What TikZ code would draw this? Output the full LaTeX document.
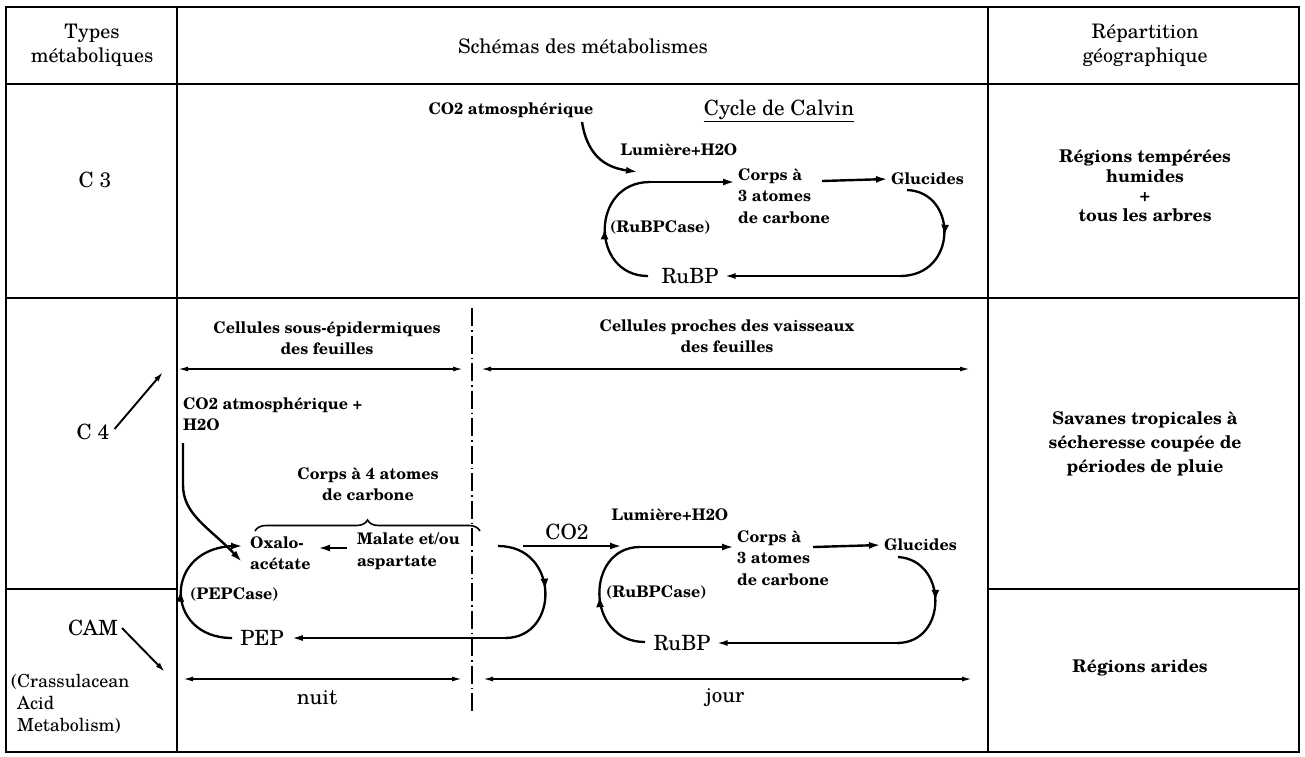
\documentclass[tikz,border=0pt]{standalone}
\usepackage{fontspec}
\setmainfont{texgyreschola}[Extension=.otf,UprightFont=*-regular,BoldFont=*-bold,ItalicFont=*-italic,BoldItalicFont=*-bolditalic]
\usetikzlibrary{arrows.meta,decorations.pathreplacing,decorations.markings}
\begin{document}
\begin{tikzpicture}[x=1pt,y=-1pt,
  grid/.style={line width=2.2pt},
  lbl/.style={font=\bfseries\fontsize{16}{21.5}\selectfont, inner sep=0pt, align=center},
  hdr/.style={font=\fontsize{20}{24}\selectfont, inner sep=0pt, align=center},
  rt/.style={font=\bfseries\fontsize{17.5}{19.5}\selectfont, inner sep=0pt, align=center},
  big/.style={font=\fontsize{21}{24}\selectfont, inner sep=0pt},
  conn/.style={line width=2.4pt, -{Latex[length=12pt,width=7pt]}},
  connb/.style={line width=2pt, -{Latex[length=11pt,width=6pt]}},
  thinarr/.style={line width=1.9pt, -{Latex[length=10pt,width=5.5pt]}},
  dbl/.style={line width=1.6pt, {Latex[length=10pt,width=5pt]}-{Latex[length=10pt,width=5pt]}},
  cyc/.style={line width=2.3pt, decoration={markings, mark=at position 0.5 with {\arrow{Latex[length=11pt,width=8pt]}}}, postaction={decorate}},
  dashdot/.style={line width=1.4pt, dash pattern=on 18pt off 4pt on 1.5pt off 4pt}
]
\fill[white] (0,0) rectangle (1305,756);
\useasboundingbox (0,0) rectangle (1305,756);

% table
\draw[grid] (6,7) rectangle (1299,752);
\draw[grid] (177,7) -- (177,752);
\draw[grid] (988,7) -- (988,752);
\draw[grid] (6,84) -- (1299,84);
\draw[grid] (6,298) -- (1299,298);
\draw[grid] (6,589) -- (177,589);
\draw[grid] (988,589) -- (1299,589);

% headers
\node[hdr] (h1) at (92,45) {Types\\métaboliques};
\node[hdr] (h2) at (583,46) {Schémas des métabolismes};
\node[hdr] (h3) at (1145,45) {Répartition\\géographique};

% left column
\node[big] (c3) at (95,180) {C 3};
\node[big] (c4) at (93,432) {C 4};
\node[big] (cam) at (93,628) {CAM};
\node[font=\fontsize{18}{22}\selectfont, inner sep=0pt, align=left, anchor=north west] (camtxt) at (11,674) {(Crassulacean\\\phantom{(}Acid\\\phantom{(}Metabolism)};
\coordinate (c4tip) at (163,372);
\coordinate (camtip) at (165,672);
\draw[thinarr] ([xshift=5pt,yshift=3pt]c4.east) -- (c4tip);
\draw[thinarr] ([xshift=4pt]cam.east) -- (camtip);

% right column
\node[rt] (r1) at (1145,186) {Régions tempérées\\humides\\+\\tous les arbres};
\node[rt, font=\bfseries\fontsize{17.5}{24}\selectfont] (r2) at (1145,444) {Savanes tropicales à\\sécheresse coupée de\\périodes de pluie};
\node[rt] (r3) at (1140,668) {Régions arides};

% ---- C3 ----
\node[lbl] (co2a) at (511,110) {CO2 atmosphérique};
\node[big] (calvin) at (779,111) {\underline{Cycle de Calvin}};
\node[lbl] (lum1) at (679,150) {Lumière+H2O};
\node[lbl, align=left, anchor=west] (corps1) at (738,196) {Corps à\\3 atomes\\de carbone};
\node[lbl, anchor=west] (gluc1) at (891,179) {Glucides};
\node[lbl, anchor=west] (rubpc1) at (610,228) {(RuBPCase)};
\node[big] (rubp1) at (690,276) {RuBP};
\coordinate (a1s) at (582,122);
\coordinate (a1e) at (638,172);
\coordinate (l1top) at (650,182);
\coordinate (l1bot) at (648,276);
\coordinate (g1s) at (907,190);
\coordinate (g1b) at (900,276);
\draw[conn] (a1s) .. controls (588,160) and (610,168) .. (a1e);
\draw[cyc] (l1bot) .. controls (590,276) and (590,182) .. (l1top);
\draw[conn] (l1top) -- ([xshift=-3pt]corps1.west |- l1top);
\draw[conn] (822,181) -- ([xshift=-3pt]gluc1.west);
\draw[cyc] (g1s) .. controls (958,192) and (958,276) .. (g1b);
\draw[connb] (g1b) -- ([xshift=6pt]rubp1.east);

% ---- C4 / CAM ----
\draw[dashdot] (472,308) -- (472,712);
\node[lbl] (cse) at (327,338) {Cellules sous-épidermiques\\des feuilles};
\node[lbl] (cpv) at (727,336) {Cellules proches des vaisseaux\\des feuilles};
\coordinate (e1l) at (178,369); \coordinate (e1r) at (463,369);
\coordinate (e2l) at (481,369); \coordinate (e2r) at (970,369);
\draw[dbl] (e1l) -- (e1r);
\draw[dbl] (e2l) -- (e2r);

\node[lbl, align=left, anchor=north west] (co2b) at (183,397) {CO2 atmosphérique +\\H2O};
\node[lbl] (c4at) at (368,484) {Corps à 4 atomes\\de carbone};
\draw[decorate, decoration={brace, amplitude=11pt}, line width=1.6pt] (255,531) -- (480,531);
\node[lbl, align=left, anchor=west] (oxa) at (250,553) {Oxalo-\\acétate};
\node[lbl, align=left, anchor=west] (mal) at (357,551) {Malate et/ou\\aspartate};
\node[lbl, anchor=west] (pepc) at (190,595) {(PEPCase)};
\node[big] (pep) at (262,638) {PEP};
\coordinate (b1) at (183,443);
\coordinate (b2) at (183,485);
\coordinate (ms) at (347,548);
\coordinate (me) at (318,548);
\draw[conn] (b1) -- (b2) .. controls (183,515) and (210,528) .. ([xshift=-8pt,yshift=-9pt]oxa.west);
\draw[conn] (ms) -- (me);
\coordinate (p1top) at (236,546);
\draw[cyc] ([xshift=-8pt]pep.west) .. controls (163,638) and (163,546) .. (p1top);
\draw[conn] ([xshift=-1pt]p1top) -- ([xshift=-7pt]oxa.west |- p1top);
\coordinate (m1s) at (498,546);
\coordinate (m1b) at (505,638);
\draw[cyc] (m1s) .. controls (560,546) and (560,638) .. (m1b);
\draw[connb] (m1b) -- ([xshift=8pt]pep.east);

\node[big] (co2c) at (567,532) {CO2};
\draw[conn] (523,546) -- (622,546);
\node[lbl] (lum2) at (670,515) {Lumière+H2O};
\node[lbl, align=left, anchor=west] (corps2) at (737,558) {Corps à\\3 atomes\\de carbone};
\node[lbl, anchor=west] (gluc2) at (884,545) {Glucides};
\node[lbl, anchor=west] (rubpc2) at (606,593) {(RuBPCase)};
\node[big] (rubp2) at (682,643) {RuBP};
\coordinate (l2top) at (640,547);
\coordinate (l2bot) at (645,642);
\draw[cyc] (l2bot) .. controls (585,642) and (585,547) .. (l2top);
\draw[conn] (l2top) -- ([xshift=-3pt]corps2.west |- l2top);
\draw[conn] (813,547) -- ([xshift=-3pt]gluc2.west);
\coordinate (g2s) at (898,557);
\coordinate (g2b) at (897,643);
\draw[cyc] (g2s) .. controls (948,560) and (948,643) .. (g2b);
\draw[connb] (g2b) -- ([xshift=6pt]rubp2.east);

\coordinate (n1l) at (183,679); \coordinate (n1r) at (462,679);
\coordinate (j1l) at (483,679); \coordinate (j1r) at (972,679);
\draw[dbl] (n1l) -- (n1r);
\draw[dbl] (j1l) -- (j1r);
\node[big] (nuit) at (317,698) {nuit};
\node[big] (jour) at (725,698) {jour};
\end{tikzpicture}
\end{document}
